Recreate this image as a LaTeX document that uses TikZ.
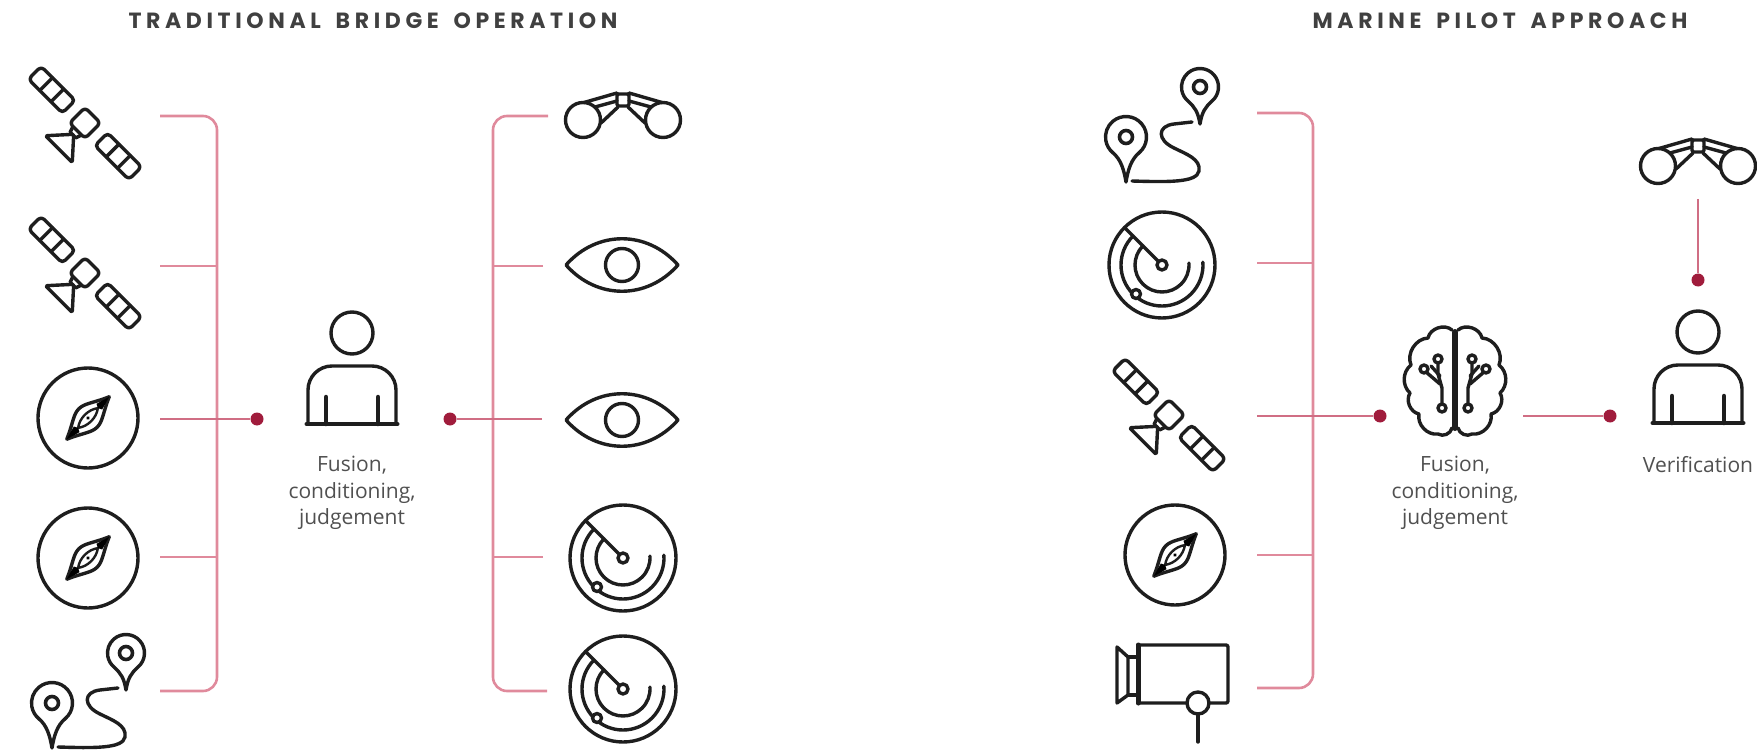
\documentclass[tikz,border=0pt]{standalone}
\usepackage{fontspec}
\setmainfont{Open Sans}
\newfontfamily\titlefont[LetterSpace=21, WordSpace=1.6]{Poppins}
\usetikzlibrary{arrows.meta, positioning, calc}
\definecolor{bracketred}{HTML}{E08A9C}
\definecolor{dotred}{HTML}{A01C3C}
\definecolor{iconblack}{HTML}{1E1E1E}
\definecolor{textgray}{HTML}{505050}
\newcommand{\satelliteicon}[2]{%
  % #1=x, #2=y of the body
  \begin{scope}[shift={(#1,#2)}, rotate=-45, icon]
    % Solar panels
    \draw[rounded corners=4] (-71,-9) rectangle (-23,9);
    \draw (-55,-9) -- (-55,9) (-39,-9) -- (-39,9);
    \draw[rounded corners=4] (23,-9) rectangle (71,9);
    \draw (39,-9) -- (39,9) (55,-9) -- (55,9);
    % Body and dish
    \draw[rounded corners=4] (-11,-11) rectangle (11,11);
    \draw (-6,11) -- (-4,17) -- (4,17) -- (6,11);
    \draw[rounded corners=2] (0,16) -- (-19,37) -- (19,37) -- cycle;
  \end{scope}
}
\newcommand{\compassicon}[2]{%
  % #1=x, #2=y of the centre
  \begin{scope}[shift={(#1,#2)}, rotate=45, icon]
    \draw (0,0) circle (50);
    \draw (-30,0) .. controls (-14,-7) and (-8,-13) .. (0,-13) .. controls (8,-13) and (14,-7) .. (30,0) .. controls (14,7) and (8,13) .. (0,13) .. controls (-8,13) and (-14,7) .. cycle;
    \draw[line width=2.4pt] (-14,0) .. controls (-6,-6) and (6,-6) .. (14,0) .. controls (6,6) and (-6,6) .. cycle;
    \fill (-30,0) -- (-16,-4) -- (-14,0) -- (-16,4) -- cycle;
    \fill (30,0) -- (16,-4) -- (14,0) -- (16,4) -- cycle;
    \fill (0,0) circle (1.8);
  \end{scope}
}
\newcommand{\mappin}[4]{%
  % #1=x, #2=y of the head, #3=radius, #4=length of the point
  \begin{scope}[shift={(#1,#2)}, icon]
    \draw (0,#4) .. controls (2,#4-12) and (5,#3+2) .. (50:#3) arc[start angle=50, end angle=-230, radius=#3] .. controls (-5,#3+2) and (-2,#4-12) .. cycle;
    \draw[line width=3.6pt] (0,0) circle (6.5);
  \end{scope}
}
\newcommand{\routeicon}[2]{%
  % #1=x, #2=y of the big pin's head
  \mappin{#1}{#2}{20.5}{45}
  \mappin{#1+74}{#2-50}{18.5}{37}
  \begin{scope}[shift={(#1,#2)}, icon]
    \draw (66,-15) -- (48,-13) .. controls (31,-11) and (31,3) .. (48,11) .. controls (60,17) and (75,22) .. (73,34) .. controls (71,46) and (40,45) .. (6,44);
  \end{scope}
}
\newcommand{\radaricon}[2]{%
  % #1=x, #2=y of the centre
  \begin{scope}[shift={(#1,#2)}, icon]
    \draw (0,0) circle (53);
    \draw (225:53) -- (225:6);
    \draw[fill=white] (0,0) circle (5);
    \draw (225:27) arc[start angle=225, end angle=-4, radius=27];
    \draw (225:41) arc[start angle=225, end angle=-4, radius=41];
    \draw[fill=white] (-26,29) circle (4.5);
  \end{scope}
}
\newcommand{\binocularicon}[2]{%
  % #1=x, #2=y of the bridge
  \begin{scope}[shift={(#1,#2)}, icon]
    \draw (-40,20) circle (17.5);
    \draw (40,20) circle (17.5);
    \draw[rounded corners=2] (-6,-6) rectangle (6,6);
    \draw (-6,-7) -- (-39,2.5) (6,-7) -- (39,2.5);
    \draw (-6,1) -- (-28,7) (6,1) -- (28,7);
    \draw (-5,7) -- (-22,23) (5,7) -- (22,23);
  \end{scope}
}
\newcommand{\eyeicon}[2]{%
  % #1=x, #2=y of the centre
  \begin{scope}[shift={(#1,#2)}, icon]
    \draw (-56,0) .. controls (-25,-35) and (25,-35) .. (56,0) .. controls (25,35) and (-25,35) .. cycle;
    \draw (0,0) circle (16.5);
  \end{scope}
}
\newcommand{\personicon}[2]{%
  % #1=x, #2=y of the head
  \begin{scope}[shift={(#1,#2)}, icon]
    \draw (0,0) circle (21);
    \draw[rounded corners=24] (-44,91) -- (-44,33) -- (44,33) -- (44,91);
    \draw[line width=4pt] (-45.5,91) -- (45.5,91);
    \draw[line width=4.5] (-26,64) -- (-26,91) (26,64) -- (26,91);
  \end{scope}
}
\newcommand{\brainlobe}{%
  % One half, drawn towards +x
  \draw (3,-50) to[bend left=60] (27,-42) to[bend left=55] (44,-15) to[bend left=50] (45,13) to[bend left=55] (36,34) to[bend left=55] (17,54) to[bend left=55] (3,48);
  \draw (13,24) -- (13,8) -- (17,-6) -- (17,-17);
  \draw (15,4) -- (29,-8);
  \draw (15,-4) -- (24,-14);
  \draw (13,28) circle (4);
  \draw (17,-21) circle (4);
  \draw (31,-11) circle (4);
}
\newcommand{\brainicon}[2]{%
  % #1=x, #2=y of the centre
  \begin{scope}[shift={(#1,#2)}, icon]
    \brainlobe
    \begin{scope}[xscale=-1]
      \brainlobe
    \end{scope}
    \draw[line width=6pt] (0,-48) -- (0,48);
  \end{scope}
}
\newcommand{\cameraicon}[2]{%
  % #1=x, #2=y of the body's top left corner
  \begin{scope}[shift={(#1,#2)}, icon]
    \draw[rounded corners=2] (0,0) rectangle (90,58);
    \draw[line width=5] (0,0) -- (0,58);
    \draw (-21,2) -- (-10,12) -- (-10,50) -- (-21,58) -- cycle;
    \draw (-10,12) -- (0,12) (-10,50) -- (0,50);
    \draw[fill=white] (60,58) circle (11);
    \draw (60,69) -- (60,97);
  \end{scope}
}
\begin{document}
\begin{tikzpicture}[
  x=1pt, y=-1pt,
  icon/.style={draw=iconblack, fill=none, line width=3.4pt, line join=round, line cap=round},
  bracket/.style={draw=bracketred, line width=2.6pt, rounded corners=14pt},
  stub/.style={draw=bracketred, line width=2.6pt},
  feed/.style={draw=bracketred!75!dotred, line width=2.2pt},
  reddot/.style={circle, fill=dotred, inner sep=0pt, minimum size=13pt},
  heading/.style={font=\titlefont\bfseries\fontsize{22}{25}\selectfont, text=iconblack!85},
  caption/.style={font=\fontsize{21}{26.5}\selectfont, text=textgray, align=center},
]
\useasboundingbox (0,0) rectangle (1757,754);

% Traditional bridge operation
\node[heading] (leftTitle) at (373,21) {TRADITIONAL BRIDGE OPERATION};

% Inputs, left column
\satelliteicon{85}{123}
\satelliteicon{85}{273}
\compassicon{88}{418}
\compassicon{88}{558}
\routeicon{52}{703}

% Bracket, left column
\coordinate (lA) at (160,116);
\coordinate (lB) at (160,266);
\coordinate (lC) at (160,419);
\coordinate (lD) at (160,557);
\coordinate (lE) at (160,691);
\coordinate (lSpine) at (217,400);
\node[reddot] (lDot) at (257,419) {};
\draw[bracket] (lA) -- (lA -| lSpine) -- (lE -| lSpine) -- (lE);
\draw[stub] (lB) -- (lB -| lSpine);
\draw[stub] (lD) -- (lD -| lSpine);
\draw[feed] (lC) -- (lDot);

% Officer
\personicon{352}{333}
\node[caption] (leftText) at (352,493) {Fusion,\\conditioning,\\judgement};

% Bracket, officer's senses
\coordinate (rA) at (548,116);
\coordinate (rB) at (543,266);
\coordinate (rC) at (542,419);
\coordinate (rD) at (543,557);
\coordinate (rE) at (547,691);
\coordinate (rSpine) at (493,400);
\node[reddot] (rDot) at (450,419) {};
\draw[bracket] (rA) -- (rA -| rSpine) -- (rE -| rSpine) -- (rE);
\draw[stub] (rB) -- (rB -| rSpine);
\draw[stub] (rD) -- (rD -| rSpine);
\draw[feed] (rC) -- (rDot);

% Senses
\binocularicon{623}{100}
\eyeicon{622}{265}
\eyeicon{622}{420}
\radaricon{623}{558}
\radaricon{623}{689}

% Marine pilot approach
\node[heading] (rightTitle) at (1500,21) {MARINE PILOT APPROACH};

% Inputs, right column
\routeicon{1126}{137}
\radaricon{1162}{265}
\satelliteicon{1169}{415}
\compassicon{1175}{555}
\cameraicon{1138}{645}

% Bracket, right column
\coordinate (pA) at (1257,113);
\coordinate (pB) at (1257,263);
\coordinate (pC) at (1257,416);
\coordinate (pD) at (1257,555);
\coordinate (pE) at (1257,688);
\coordinate (pSpine) at (1313,400);
\node[reddot] (pDot) at (1380,416) {};
\draw[bracket] (pA) -- (pA -| pSpine) -- (pE -| pSpine) -- (pE);
\draw[stub] (pB) -- (pB -| pSpine);
\draw[stub] (pD) -- (pD -| pSpine);
\draw[feed] (pC) -- (pDot);

% Brain
\brainicon{1455}{380}
\node[caption] (brainText) at (1455,493) {Fusion,\\conditioning,\\judgement};
\coordinate (brainOut) at (1523,416);
\node[reddot] (verifyDot) at (1610,416) {};
\draw[feed] (brainOut) -- (verifyDot);

% Pilot
\binocularicon{1698}{146}
\coordinate (lookDown) at (1698,199);
\node[reddot] (pilotDot) at (1698,280) {};
\draw[feed] (lookDown) -- (pilotDot);
\personicon{1698}{332}
\node[caption] (pilotText) at (1698,465) {Verification};

\end{tikzpicture}
\end{document}
